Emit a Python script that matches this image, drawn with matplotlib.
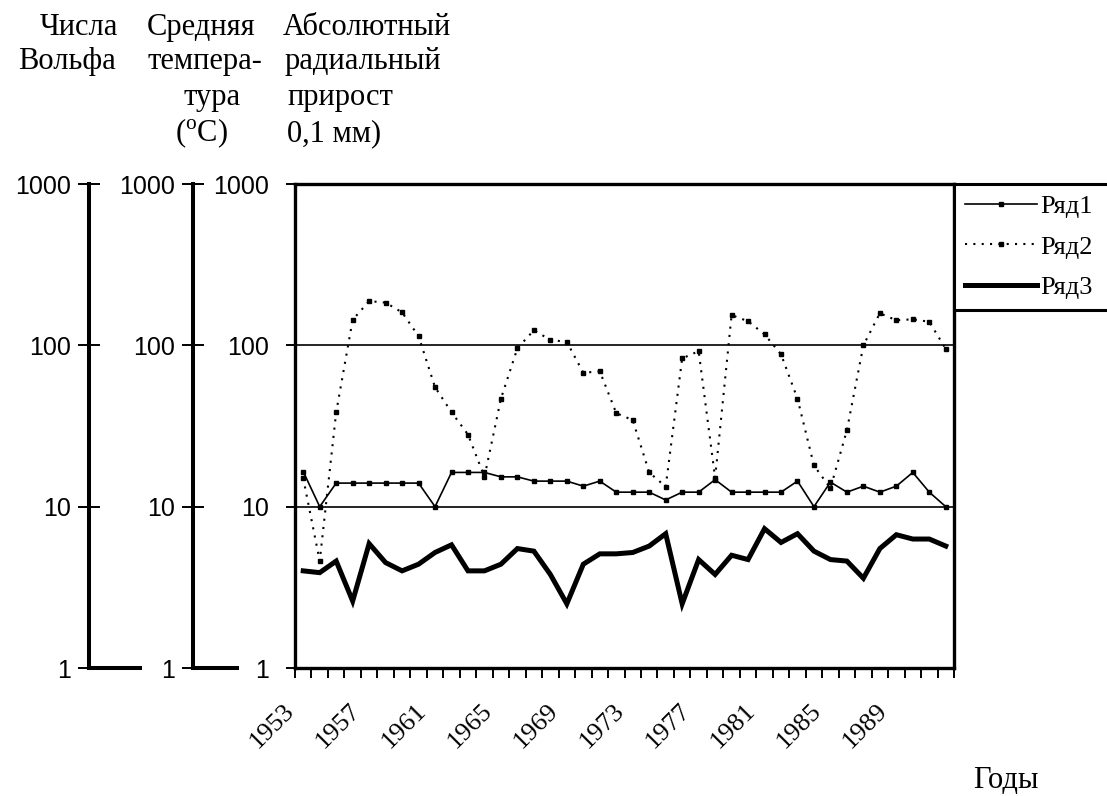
import numpy as np
import matplotlib
matplotlib.use('Agg')
import matplotlib.pyplot as plt
import matplotlib.transforms as mtransforms
from matplotlib.ticker import FixedLocator, NullLocator

# Data
years = list(range(1953, 1993))
row1 = [16.5, 10, 14, 14, 14, 14, 14, 14, 10, 16.3,
        16.3, 16.3, 15.3, 15.3, 14.4, 14.4, 14.4, 13.4, 14.4, 12.3,
        12.3, 12.3, 11.0, 12.3, 12.3, 14.7, 12.3, 12.3, 12.3, 12.3,
        14.4, 10, 14.2, 12.3, 13.4, 12.3, 13.4, 16.3, 12.3, 10]
row2 = [15, 4.6, 38.5, 144, 188, 184, 160, 114, 55, 38.5,
        28, 15.3, 46.7, 96, 124, 108, 105, 67.6, 69, 38,
        34.4, 16.3, 13.3, 83, 92, 15.1, 154, 141, 117, 88,
        46.7, 18, 13, 29.8, 100, 158, 143, 145, 140, 95]
row3 = [4.0, 3.9, 4.6, 2.6, 5.9, 4.5, 4.0, 4.4, 5.2, 5.8,
        4.0, 4.0, 4.4, 5.5, 5.3, 3.8, 2.5, 4.4, 5.1, 5.1,
        5.2, 5.7, 6.8, 2.5, 4.7, 3.8, 5.0, 4.7, 7.3, 6.0,
        6.8, 5.3, 4.7, 4.6, 3.6, 5.5, 6.7, 6.3, 6.3, 5.7]
labels = ["Ряд1", "Ряд2", "Ряд3"]
yticks = [1, 10, 100, 1000]
ytick_labels = ["1", "10", "100", "1000"]

plt.rcParams['font.family'] = ['Liberation Sans', 'DejaVu Sans']
plt.rcParams['mathtext.fontset'] = 'custom'
plt.rcParams['mathtext.rm'] = 'Liberation Serif'

W, H = 1107, 796
fig = plt.figure(figsize=(W / 100, H / 100), dpi=100)

top_px, bot_px = 184, 668
b = (H - bot_px) / H
h = (bot_px - top_px) / H

# Main plot
ax = fig.add_axes([295 / W, b, 659 / W, h])
x = np.arange(len(years))
l1, = ax.plot(x, row1, color='black', lw=1.2, marker='s', ms=2.5, label=labels[0])
l2, = ax.plot(x, row2, color='black', lw=1.5, ls=(0, (1, 3)), marker='s', ms=3,
              label=labels[1])
l3, = ax.plot(x, row3, color='black', lw=3.6, solid_joinstyle='miter', label=labels[2])
ax.set_yscale('log')
ax.set_ylim(1, 1000)
ax.set_xlim(-0.5, len(years) - 0.5)
ax.yaxis.set_major_locator(FixedLocator(yticks))
ax.yaxis.set_minor_locator(NullLocator())
ax.set_yticklabels(ytick_labels)
ax.grid(True, axis='y', which='major', color='black', lw=1.2)
for s in ax.spines.values():
    s.set_linewidth(2.4)
ax.tick_params(axis='y', direction='out', length=6.5, width=1.4, pad=12,
               labelsize=18)

# x axis: labels every 4 years, ticks on category borders
ax.xaxis.set_major_locator(FixedLocator(x[::4]))
ax.set_xticklabels([str(y) for y in years[::4]], family='Liberation Serif')
ax.xaxis.set_minor_locator(FixedLocator(np.arange(-0.5, len(years), 1.0)))
ax.tick_params(axis='x', which='major', length=0, pad=23, labelsize=19)
ax.tick_params(axis='x', which='minor', direction='out', length=7, width=1.4)
shift = mtransforms.ScaledTranslation(-20 / 100, 0, fig.dpi_scale_trans)
for t in ax.get_xticklabels():
    t.set_rotation(45)
    t.set_ha('right')
    t.set_va('top')
    t.set_rotation_mode('anchor')
    t.set_transform(t.get_transform() + shift)

leg = ax.legend(handles=[l1, l2, l3], loc='upper left',
                bbox_to_anchor=(1.0, 1.0, 0.35, 0), mode='expand',
                borderaxespad=0, fancybox=False, edgecolor='black',
                prop={'family': 'Liberation Serif', 'size': 19},
                handlelength=2.75, handletextpad=0.1, numpoints=1,
                labelspacing=0.65, borderpad=0.4)
leg.get_frame().set_linewidth(2.2)
leg.get_frame().set_alpha(1)

# Two extra axes on the left
for left_px, w_px in [(89, 51), (193, 44)]:
    a = fig.add_axes([left_px / W, b, w_px / W, h])
    a.set_yscale('log')
    a.set_ylim(1, 1000)
    a.patch.set_visible(False)
    a.spines['top'].set_visible(False)
    a.spines['right'].set_visible(False)
    a.spines['left'].set_linewidth(2.9)
    a.spines['bottom'].set_linewidth(2.9)
    a.set_xticks([])
    a.yaxis.set_major_locator(FixedLocator(yticks))
    a.yaxis.set_minor_locator(NullLocator())
    a.set_yticklabels(ytick_labels)
    a.tick_params(axis='y', direction='inout', length=15.5, width=1.4, pad=5,
                  labelsize=18)

# Header texts
serif = dict(family='Liberation Serif', size=22, ha='left', va='baseline')
def ptext(px, py, s):
    fig.text(px / W, 1 - py / H, s, **serif)

ptext(40, 35, "Числа")
ptext(147, 35, "Средняя")
ptext(283, 35, "Абсолютный")
ptext(18, 69, "Вольфа")
ptext(148, 69, "темпера-")
ptext(285, 69, "радиальный")
ptext(183, 105, "тура")
ptext(287, 105, "прирост")
ptext(175, 141, r"($^{\rm o}$C)")
ptext(287, 141, "0,1 мм)")
ptext(973, 788, "Годы")

fig.savefig('out.png', dpi=100)
